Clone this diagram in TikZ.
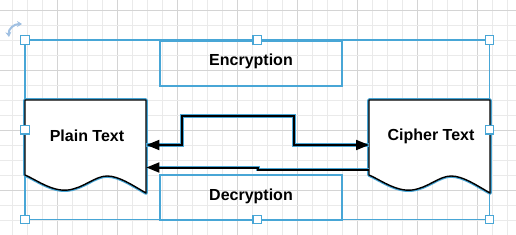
\documentclass[tikz,border=0pt]{standalone}
\usepackage{fontspec}
\setmainfont{Liberation Sans}
\usetikzlibrary{arrows.meta,calc}
\definecolor{selblue}{RGB}{72,166,214}
\definecolor{gridminor}{RGB}{234,234,234}
\definecolor{gridmajor}{RGB}{212,212,212}
\definecolor{rotblue}{RGB}{160,192,226}
\tikzset{
  shapetext/.style={font=\bfseries\fontsize{16}{18}\selectfont, inner sep=0pt},
  selbox/.style={draw=selblue, line width=1.7pt},
  procbox/.style={draw=selblue, line width=1.8pt, minimum width=182, minimum height=45, inner sep=0pt, anchor=north west},
  handle/.style={draw=selblue, fill=white, line width=1.3pt, minimum size=8.5pt, inner sep=0pt},
  halo/.style={draw=selblue, line width=3.6pt, line join=round},
  outline/.style={draw=black, line width=1.4pt, line join=round},
  edgehalo/.style={draw=selblue, line width=3.8pt},
  edgeline/.style={draw=black, line width=2pt},
  tip/.style={-{Triangle[length=13pt,width=10pt]}},
  bothtip/.style={{Triangle[length=13pt,width=10pt]}-{Triangle[length=13pt,width=10pt]}},
  ghost/.style={draw=none, inner sep=0pt, anchor=north west}
}
\newcommand{\docpath}[2]{% #1 = x left, #2 = y top (width 121, height 93)
  (#1,#2) -- ++(121,0) -- ++(0,93)
  .. controls ++(-14,-8) and ++(12,0) .. ++(-39,-17)
  .. controls ++(-12,0) and ++(16,-2) .. ++(-39,14)
  .. controls ++(-16,2) and ++(10,4) .. ++(-43,-15) -- cycle}
\begin{document}
\begin{tikzpicture}[x=1pt,y=-1pt]
\useasboundingbox (0,0) rectangle (516,235);
% grid
\foreach \k in {0,...,33} {
  \pgfmathtruncatemacro{\xx}{12+15*\k}
  \pgfmathtruncatemacro{\mm}{mod(\k+1,4)}
  \ifnum\mm=0 \draw[gridmajor, line width=0.9pt] (\xx,0) -- (\xx,235);
  \else \draw[gridminor, line width=0.9pt] (\xx,0) -- (\xx,235); \fi
}
\foreach \k in {0,...,15} {
  \pgfmathtruncatemacro{\yy}{10+15*\k}
  \pgfmathtruncatemacro{\mm}{mod(\k,4)}
  \ifnum\mm=0 \draw[gridmajor, line width=0.9pt] (0,\yy) -- (516,\yy);
  \else \draw[gridminor, line width=0.9pt] (0,\yy) -- (516,\yy); \fi
}
% selection rectangle
\node[ghost, minimum width=464, minimum height=179] (sel) at (25,40) {};
\draw[selbox] (sel.north west) rectangle (sel.south east);
% encryption / decryption boxes
\node[procbox] (enc) at (159,40) {};
\node[shapetext] (enctext) at (251,61) {Encryption};
\node[procbox] (dec) at (159,174) {};
\node[shapetext] (dectext) at (251,196) {Decryption};
% documents
\node[ghost, minimum width=121, minimum height=93] (plain) at (25,100) {};
\node[ghost, minimum width=121, minimum height=93] (cipher) at (369,100) {};
\path[halo] \docpath{25}{100};
\path[fill=white] \docpath{25}{100};
\path[outline] \docpath{25}{100};
\path[halo] \docpath{369}{100};
\path[fill=white] \docpath{369}{100};
\path[outline] \docpath{369}{100};
\node[shapetext] (plaintext) at (87,136) {Plain Text};
\node[shapetext] (ciphertext) at (431,136) {Cipher Text};
% connectors
\coordinate (u1) at (182,145);
\coordinate (u2) at (182,116);
\coordinate (u3) at (294,116);
\coordinate (u4) at (294,145);
\coordinate (l1) at (258,169.5);
\coordinate (l2) at (258,167.5);
\path[edgehalo] (plain.east |- u1) -- (u1) -- (u2) -- (u3) -- (u4) -- (cipher.west |- u4);
\path[edgeline, bothtip] (plain.east |- u1) -- (u1) -- (u2) -- (u3) -- (u4) -- (cipher.west |- u4);
\path[edgehalo] (cipher.west |- l1) -- (l1) -- (l2) -- ($(plain.east |- l2)+(10,0)$);
\path[edgeline, tip] (cipher.west |- l1) -- (l1) -- (l2) -- (plain.east |- l2);
% handles
\foreach \p/\n in {sel.north west/h1, sel.north/h2, sel.north east/h3, sel.west/h4, sel.east/h5, sel.south west/h6, sel.south/h7, sel.south east/h8} {
  \node[handle] (\n) at (\p) {};
}
% rotation handle
\draw[rotblue, line width=2pt, {Stealth[length=5pt,width=6pt]}-{Stealth[length=5pt,width=6pt]}] (9,37) .. controls (8,29) and (14,24) .. (22,24);
\end{tikzpicture}
\end{document}
